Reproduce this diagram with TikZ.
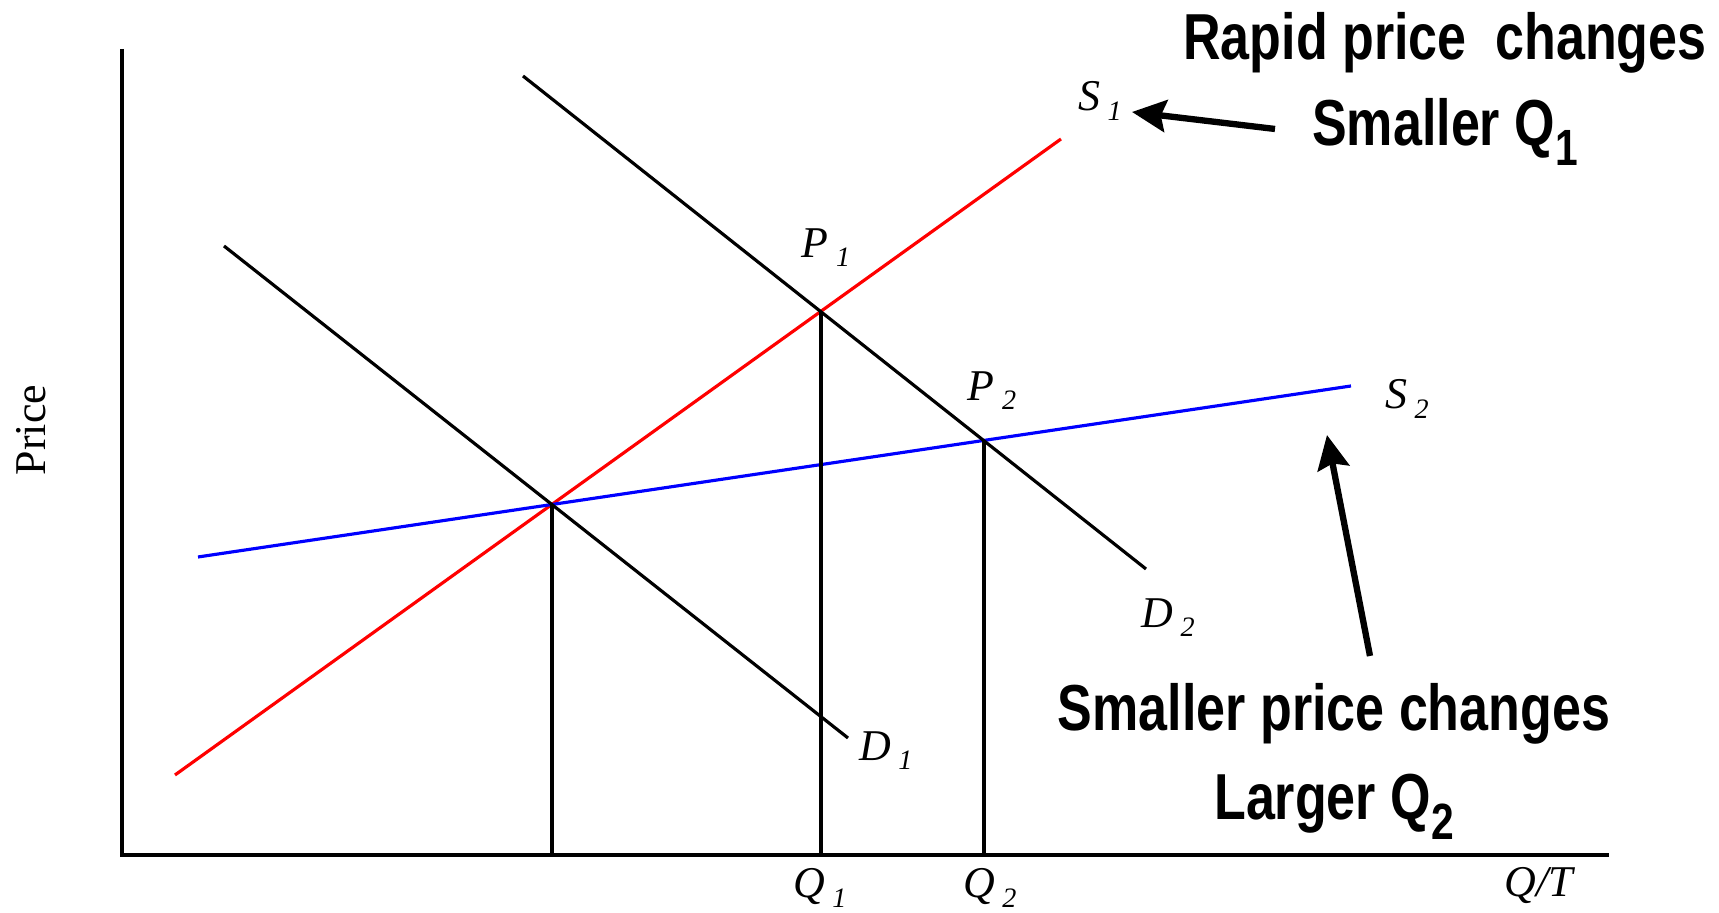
\documentclass[tikz,border=0pt]{standalone}
\usepackage{fontspec}
\setmainfont{Liberation Serif}
\newfontfamily\notefont{Liberation Sans}
\usetikzlibrary{arrows.meta,intersections}

\newcommand{\crvlabel}[2]{\textit{#1}\,\raisebox{-0.45ex}{\fontsize{8}{9}\selectfont\textit{#2}}}
\newcommand{\notesub}[1]{\raisebox{-0.3em}{\fontsize{14.5}{16}\selectfont #1}}

\begin{document}
\begin{tikzpicture}[>={Stealth[length=3.4mm,width=3.2mm,inset=0.5mm]},
  axis/.style={line width=1.2pt},
  curve/.style={line width=0.9pt},
  drop/.style={line width=1.1pt},
  lbl/.style={font=\fontsize{12.5}{14}\selectfont,inner sep=1pt},
  note/.style={font=\notefont\bfseries\fontsize{18.5}{22}\selectfont,xscale=0.8,inner sep=0pt,anchor=base},
  fatarrow/.style={->,line width=1.8pt}]
\useasboundingbox (-1.22,-0.58) rectangle (15.97,8.55);
% axes
\coordinate (O) at (0,0);
\draw[axis] (0,8.06) -- (O) -- (14.87,0);
\node[lbl,rotate=90] (price) at (-0.91,4.25) {Price};
\node[lbl] (qt) at (14.18,-0.31) {\textit{Q/T}};
% supply and demand
\draw[curve,red,name path=s1] (0.53,0.80) -- (9.39,7.16);
\draw[curve,blue,name path=s2] (0.76,2.98) -- (12.29,4.69);
\draw[curve,name path=d1] (1.02,6.09) -- (7.26,1.17);
\draw[curve,name path=d2] (4.01,7.79) -- (10.24,2.86);
\path[name intersections={of=s1 and s2,by=E0}];
\path[name intersections={of=s1 and d2,by=P1}];
\path[name intersections={of=s2 and d2,by=P2}];
\draw[drop] (E0) -- (E0 |- O);
\draw[drop] (P1) -- (P1 |- O);
\draw[drop] (P2) -- (P2 |- O);
% labels
\node[lbl] (s1lab) at (9.78,7.54) {\crvlabel{S}{1}};
\node[lbl] (s2lab) at (12.85,4.56) {\crvlabel{S}{2}};
\node[lbl] (p1lab) at (7.04,6.07) {\crvlabel{P}{1}};
\node[lbl] (p2lab) at (8.70,4.64) {\crvlabel{P}{2}};
\node[lbl] (d1lab) at (7.64,1.04) {\crvlabel{D}{1}};
\node[lbl] (d2lab) at (10.46,2.37) {\crvlabel{D}{2}};
\node[lbl] (q1lab) at (6.98,-0.33) {\crvlabel{Q}{1}};
\node[lbl] (q2lab) at (8.68,-0.33) {\crvlabel{Q}{2}};
% notes
\node[note] (rapid) at (13.23,7.95) {Rapid price\ \ changes};
\node[note] (smq1) at (13.23,7.09) {Smaller Q\notesub{1}};
\node[note] (smpc) at (12.12,1.24) {Smaller price changes};
\node[note] (lgq2) at (12.12,0.35) {Larger Q\notesub{2}};
\coordinate (a1tail) at (11.53,7.26);
\coordinate (a1tip) at (10.10,7.43);
\coordinate (a2tail) at (12.48,1.99);
\coordinate (a2tip) at (12.05,4.20);
\draw[fatarrow] (a1tail) -- (a1tip);
\draw[fatarrow] (a2tail) -- (a2tip);
\end{tikzpicture}
\end{document}
